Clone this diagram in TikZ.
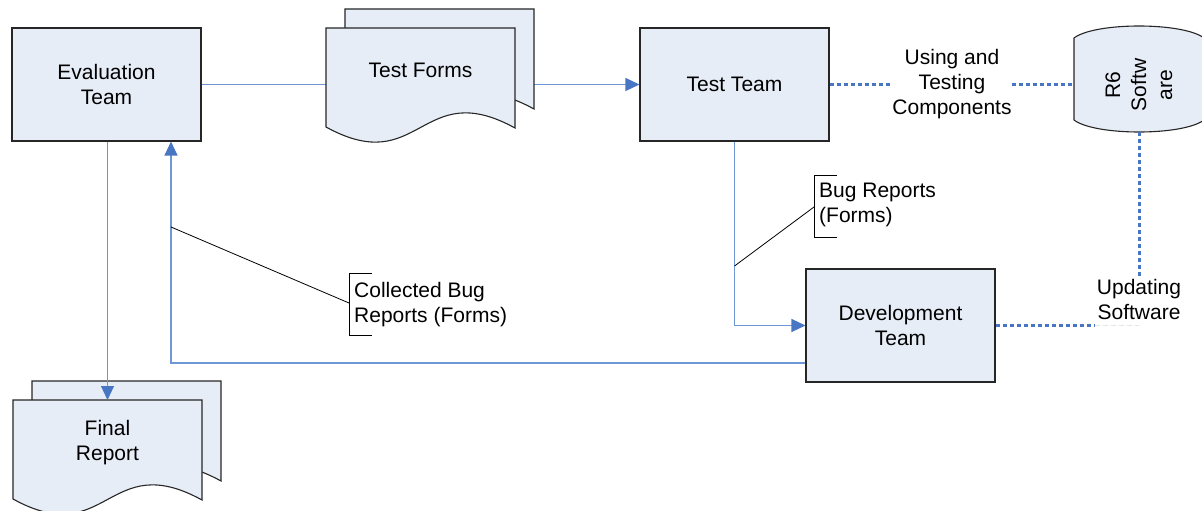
\documentclass[tikz,border=0pt]{standalone}
\usepackage{fontspec}
\setmainfont{Liberation Sans}
\usetikzlibrary{arrows.meta,calc}
\definecolor{boxfill}{RGB}{231,237,247}
\definecolor{linkblue}{RGB}{110,152,212}
\definecolor{dotblue}{RGB}{72,118,194}
\newcommand\diagfont{\fontsize{21}{25}\selectfont}
% one document sheet: #1,#2 top-left corner, #3 width, #4 height
\newcommand\docsheet[4]{%
  \pgfmathsetmacro\docR{#1+#3}%
  \pgfmathsetmacro\docM{#1+#3/2}%
  \pgfmathsetmacro\docB{#2+#4}%
  \draw[docline] (#1,#2) -- (\docR,#2) -- (\docR,\docB+1)
    .. controls (\docM,\docB-51) and (\docM,\docB+52) .. (#1,\docB) -- cycle;}
% two stacked sheets, the back one offset up and to the right
\newcommand\docstack[4]{%
  \docsheet{#1+19}{#2-19}{#3}{#4}%
  \docsheet{#1}{#2}{#3}{#4}}
\tikzset{
  docline/.style={draw=black!85,fill=boxfill,line width=1.1pt},
  teambox/.style={draw=black!85,fill=boxfill,line width=1.1pt,
    minimum width=189pt,minimum height=113pt,inner sep=0pt,
    font=\diagfont,align=center},
  txt/.style={font=\diagfont,align=center,inner sep=0pt},
  conn/.style={draw=linkblue,line width=1.2pt},
  arr/.style={conn,-{Triangle[length=14pt,width=13pt,color=dotblue,fill=dotblue]}},
  dots/.style={draw=dotblue,line width=3pt,dash pattern=on 4pt off 3pt},
  faintdots/.style={draw=black!10,line width=1.5pt,dash pattern=on 5pt off 3pt},
  lead/.style={draw=black,line width=0.8pt}
}
\begin{document}
\begin{tikzpicture}[x=1pt,y=-1pt]
\useasboundingbox (0,0) rectangle (1202,511);

% team boxes
\node[teambox] (eval) at (106.5,84.5) {Evaluation\\Team};
\node[teambox] (tt)   at (734.5,84.5) {Test Team};
\node[teambox] (dev)  at (900.5,325.5) {Development\\Team};

% forms go from the evaluation team to the test team
\draw[arr] (eval.east) -- (tt.west);

% document stacks
\docstack{326}{28}{189}{99}
\node[txt] (forms) at (420.5,70) {Test Forms};
\docstack{13}{400}{189}{99}
\node[txt] (final) at (107.5,442.5) {Final\\Report};
\coordinate (finaltop) at (107.5,400);

% software store
\node[minimum width=130pt,minimum height=105pt,inner sep=0pt] (r6) at (1139,79.5) {};
\draw[docline] (1074,38) .. controls (1095,22) and (1183,22) .. (1204,38)
  -- (1204,120) .. controls (1183,136) and (1095,136) .. (1074,120) -- cycle;
\node[txt,rotate=90,font=\fontsize{21}{26}\selectfont] at (1139,85) {R6\\Softw\\are};

% labels on the dotted links
\node[txt] (use) at (952,84) {Using and\\Testing\\Components};
\node[txt,inner xsep=2pt,inner ysep=2pt] (upd) at (1139,299.5) {Updating\\Software};

% dotted links
\draw[dots] (tt.east) -- (tt.east -| use.west);
\draw[dots] (use.east) -- (use.east -| r6.west);
\draw[dots] (r6.south) -- (upd.north);
\draw[dots] (dev.east) -- (dev.east -| upd.west);
\draw[faintdots] (dev.east -| upd.west) -- (dev.east -| r6.south);

% evaluation team to final report
\draw[arr] (eval.south -| finaltop) -- (finaltop);

% test team to development team
\draw[arr] (tt.south) |- (dev.west);

% development team back to evaluation team
\coordinate (back) at (171,363);
\draw[arr] (dev.south west |- back) -- (back) -- (back |- eval.south);

% callouts
\node[txt,align=left,anchor=west] (bugs) at (819,204.5) {Bug Reports\\(Forms)};
\draw[lead] (837,175) -- (814,175) -- (814,237) -- (837,237);
\draw[lead] (814,207) -- (tt.south |- 0,266);

\node[txt,align=left,anchor=west] (coll) at (354,304.5) {Collected Bug\\Reports (Forms)};
\draw[lead] (372,273) -- (349,273) -- (349,335) -- (372,335);
\draw[lead] (349,303) -- (back |- 0,227);
\end{tikzpicture}
\end{document}
